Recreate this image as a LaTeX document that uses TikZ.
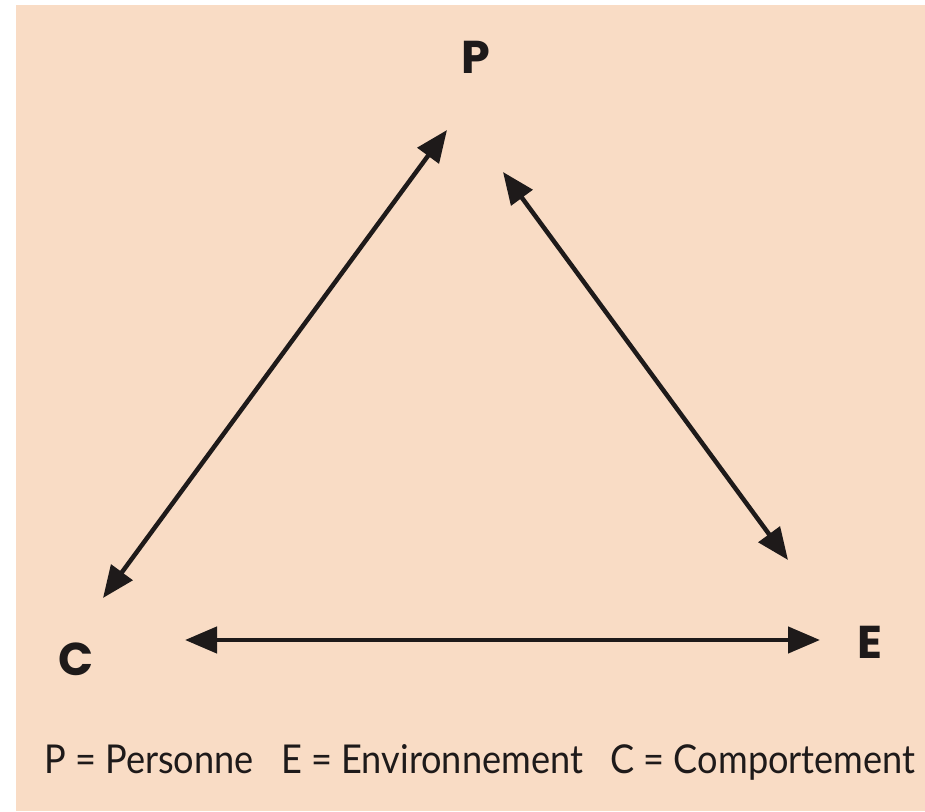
\documentclass[tikz,border=0pt]{standalone}
\usepackage{fontspec}
\usepackage{graphicx}
\usepackage{tikz}
\usetikzlibrary{arrows.meta,calc,positioning}
\newfontfamily\labelfont{Poppins}
\newfontfamily\legendfont{Lato}
\definecolor{modelPeach}{HTML}{F9DCC5}
\definecolor{modelInk}{HTML}{1E1A1A}

\begin{document}
\begin{tikzpicture}[x=1pt,y=1pt,
    every node/.style={text=modelInk, inner sep=0pt},
    corner/.style={font=\labelfont\bfseries\fontsize{46}{46}\selectfont},
    biArrow/.style={draw=modelInk, line width=4.5pt,
      {Triangle[length=32pt,width=26pt]}-{Triangle[length=32pt,width=26pt]}}]
    \useasboundingbox (0,0) rectangle (925,811);
    \fill[modelPeach] (16,0) rectangle (925,806);
    \node[corner] (P) at (476,754) {P};
    \node[corner] (C) at (76,152) {C};
    \node[corner] (E) at (870,169) {E};
    \draw[biArrow] ([shift={(27,61)}]C.center) -- ([shift={(-29,-73)}]P.center);
    \draw[biArrow] ([shift={(27,-115)}]P.center) -- ([shift={(-82,82)}]E.center);
    \draw[biArrow] ([shift={(109,19)}]C.center) -- ([shift={(-50,2)}]E.center);
    \node[anchor=base west] (legend) at (44,38)
      {\resizebox{871pt}{29pt}{\legendfont P = Personne\enspace\ E = Environnement\enspace\ C = Comportement}};
  \end{tikzpicture}
\end{document}
